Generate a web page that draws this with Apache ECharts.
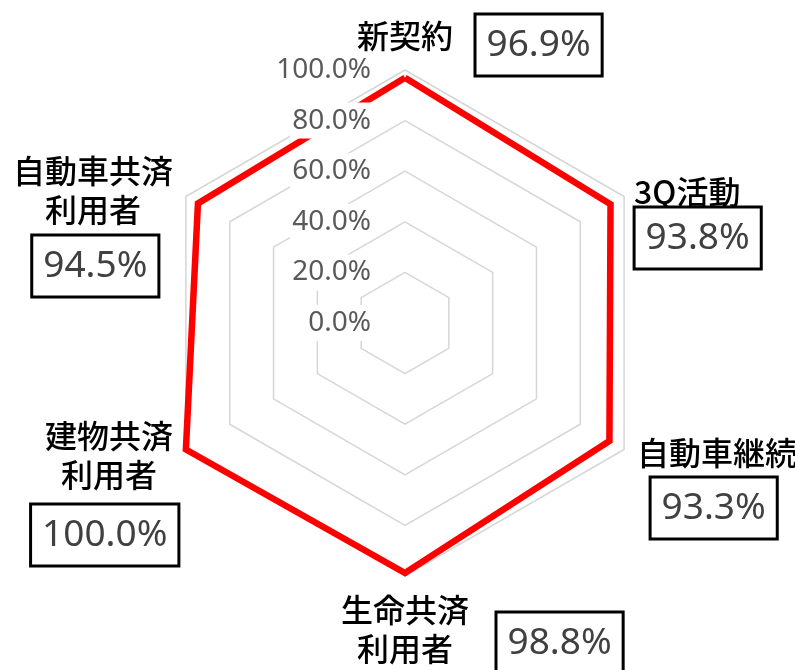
<!DOCTYPE html>
<html>
<head>
<meta charset="utf-8">
<script src="https://cdn.jsdelivr.net/npm/echarts@6/dist/echarts.min.js"></script>
<style>
html, body { margin: 0; padding: 0; background: #fff; }
#chart { width: 795px; height: 670px; }
</style>
</head>
<body>
<div id="chart"></div>
<script>
// categories clockwise from the top, as in the original sheet
var categories = ['新契約', '3Q活動', '自動車継続', '生命共済\n利用者', '建物共済\n利用者', '自動車共済\n利用者'];
var values = [96.9, 93.8, 93.3, 98.8, 100.0, 94.5];
var tickValues = [0, 20, 40, 60, 80, 100];

// where each category name sits next to its vertex
var nameLayout = [
  { align: 'center', verticalAlign: 'bottom', gap: 15, padding: [0, 0, 0, 0] },
  { align: 'left', verticalAlign: 'middle', gap: 0, padding: [0, 0, 10, 10] },
  { align: 'left', verticalAlign: 'middle', gap: 0, padding: [7, 0, 0, 13] },
  { align: 'center', verticalAlign: 'top', gap: 14, padding: [0, 0, 0, 0] },
  { align: 'right', verticalAlign: 'middle', gap: 0, padding: [12, 13, 0, 0] },
  { align: 'right', verticalAlign: 'middle', gap: 0, padding: [0, 13, 13, 0] }
];
// where each value box sits
var boxLayout = [
  { align: 'left', verticalAlign: 'bottom', gap: -4.5, padding: [0, 0, 0, 71.5] },
  { align: 'left', verticalAlign: 'top', gap: 0, padding: [12, 0, 0, 11.5] },
  { align: 'left', verticalAlign: 'top', gap: 0, padding: [29, 0, 0, 27.5] },
  { align: 'left', verticalAlign: 'top', gap: 0, padding: [37.5, 0, 0, 92.5] },
  { align: 'right', verticalAlign: 'top', gap: 0, padding: [56, 8.5, 0, 0] },
  { align: 'right', verticalAlign: 'top', gap: 0, padding: [40, 28.5, 0, 0] }
];

// echarts lays the radar out counterclockwise, the sheet goes clockwise
var order = [0, 5, 4, 3, 2, 1];
var vmin = tickValues[0];
var vmax = tickValues[tickValues.length - 1];

var nameIndicators = order.map(function (i) {
  var lay = nameLayout[i];
  return {
    name: categories[i].split('\n').map(function (s) { return '{c|' + s + '}'; }).join('\n'),
    min: vmin,
    max: vmax,
    nameGap: lay.gap,
    nameTextStyle: { align: lay.align, verticalAlign: lay.verticalAlign, padding: lay.padding }
  };
});

var boxIndicators = order.map(function (i, k) {
  var lay = boxLayout[i];
  var ind = {
    name: '{b|' + values[i].toFixed(1) + '%}',
    min: vmin,
    max: vmax,
    nameGap: lay.gap,
    nameTextStyle: { align: lay.align, verticalAlign: lay.verticalAlign, padding: lay.padding }
  };
  if (k === 0) {
    ind.axisLabel = { show: true };
  }
  return ind;
});

var chart = echarts.init(document.getElementById('chart'));
chart.setOption({
  animation: false,
  radar: [{
    center: [405, 323],
    radius: 253,
    startAngle: 90,
    shape: 'polygon',
    splitNumber: tickValues.length - 1,
    indicator: nameIndicators,
    axisName: {
      color: '#000',
      rich: {
        c: { fontFamily: 'Noto Sans CJK JP', fontSize: 32, fontWeight: 500, lineHeight: 39, color: '#000', align: 'center' }
      }
    },
    axisLine: { show: false },
    axisTick: { show: false },
    axisLabel: { show: false },
    splitArea: { show: false },
    splitLine: { lineStyle: { color: '#d6d6d6', width: 1.5 } },
    z: 0
  }, {
    center: [405, 323],
    radius: 253,
    startAngle: 90,
    shape: 'polygon',
    splitNumber: tickValues.length - 1,
    indicator: boxIndicators,
    axisName: {
      rich: {
        b: {
          fontFamily: 'Noto Sans', fontSize: 37, color: '#404040',
          padding: [11, 10], borderColor: '#000', borderWidth: 3, backgroundColor: '#fff'
        }
      }
    },
    axisLine: { show: false },
    axisTick: { show: false },
    axisLabel: {
      show: false,
      showMinLabel: true,
      showMaxLabel: true,
      hideOverlap: false,
      margin: 32,
      fontFamily: 'Noto Sans',
      fontSize: 28,
      color: '#595959',
      backgroundColor: '#fff',
      padding: [8, 2, 0, 2],
      formatter: function (v) { return v.toFixed(1) + '%'; }
    },
    splitArea: { show: false },
    splitLine: { show: false },
    z: 5
  }],
  series: [{
    type: 'radar',
    radarIndex: 0,
    symbol: 'none',
    silent: true,
    lineStyle: { color: '#ff0000', width: 6.5, join: 'miter' },
    data: [{ value: order.map(function (i) { return values[i]; }) }]
  }]
});
</script>
</body>
</html>
